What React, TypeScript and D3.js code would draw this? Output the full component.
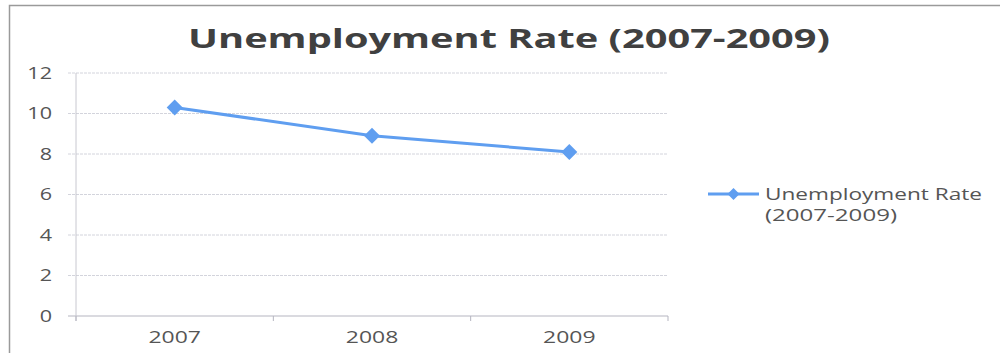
import React from "react";
import * as d3 from "d3";

const categories = ["2007", "2008", "2009"];
const values = [10.3, 8.9, 8.1];
const yTicks = [0, 2, 4, 6, 8, 10, 12];
const title = "Unemployment Rate (2007-2009)";
const legendLines = ["Unemployment Rate", "(2007-2009)"];

const W = 1000, H = 353;
const plot = { left: 76, right: 668, top: 73, bottom: 316 };
const lineColor = "#5f9ef0";
const font = "'Open Sans', sans-serif";
const SX = 1.35;

export default function App() {
  const x = d3.scaleBand<string>().domain(categories).range([plot.left, plot.right]);
  const y = d3.scaleLinear().domain([0, 12]).range([plot.bottom, plot.top]);
  const cx = (c: string) => (x(c) ?? 0) + x.bandwidth() / 2;
  const line = d3.line<number>().x((_, i) => cx(categories[i])).y((d) => y(d));
  const diamond = (px: number, py: number, r: number) =>
    `M${px},${py - r}L${px + r},${py}L${px},${py + r}L${px - r},${py}Z`;
  const boundaries = [...categories.map((c) => x(c) ?? 0), plot.right];

  return (
    <svg width={W} height={H} style={{ position: "absolute", left: 0, top: 0, background: "#fff" }}>
      <rect x={9.5} y={5.5} width={995} height={360} fill="#fff" stroke="#9a9a9a" strokeWidth={1.5} />
      <text x={188} y={48} textLength={642} lengthAdjust="spacingAndGlyphs" fontFamily={font} fontWeight={700} fontSize={27} fill="#404040">
        {title}
      </text>
      {yTicks.map((t) => (
        <g key={t}>
          <line x1={plot.left - 8} x2={plot.right} y1={y(t)} y2={y(t)} stroke={t === 0 ? "#b5b5c0" : "#d3d4dc"} strokeWidth={1} strokeDasharray={t === 0 ? undefined : "3,1"} />
          <g transform={`translate(52,${y(t) + 5.5}) scale(${SX},1)`}>
            <text x={0} y={0} textAnchor="end" fontFamily={font} fontSize={16} fill="#555">
              {t}
            </text>
          </g>
        </g>
      ))}
      <line x1={plot.left} x2={plot.left} y1={plot.top} y2={plot.bottom + 5} stroke="#c8c8d0" strokeWidth={1} />
      {boundaries.map((b, i) => (
        <line key={i} x1={b} x2={b} y1={plot.bottom} y2={plot.bottom + 5} stroke="#b5b5c0" strokeWidth={1} />
      ))}
      {categories.map((c) => (
        <g key={c} transform={`translate(${cx(c)},342.5) scale(${SX},1)`}>
          <text x={0} y={0} textAnchor="middle" fontFamily={font} fontSize={17} fill="#555">
            {c}
          </text>
        </g>
      ))}
      <path d={line(values) ?? ""} fill="none" stroke={lineColor} strokeWidth={3} />
      {values.map((v, i) => (
        <path key={i} d={diamond(cx(categories[i]), y(v), 8)} fill={lineColor} />
      ))}
      <line x1={708} x2={759} y1={194} y2={194} stroke={lineColor} strokeWidth={3} />
      <path d={diamond(733.5, 194, 6)} fill={lineColor} />
      <text x={765} y={200} textLength={217} lengthAdjust="spacingAndGlyphs" fontFamily={font} fontSize={17} fill="#555">
        {legendLines[0]}
      </text>
      <text x={765} y={221} textLength={132} lengthAdjust="spacingAndGlyphs" fontFamily={font} fontSize={17} fill="#555">
        {legendLines[1]}
      </text>
    </svg>
  );
}
